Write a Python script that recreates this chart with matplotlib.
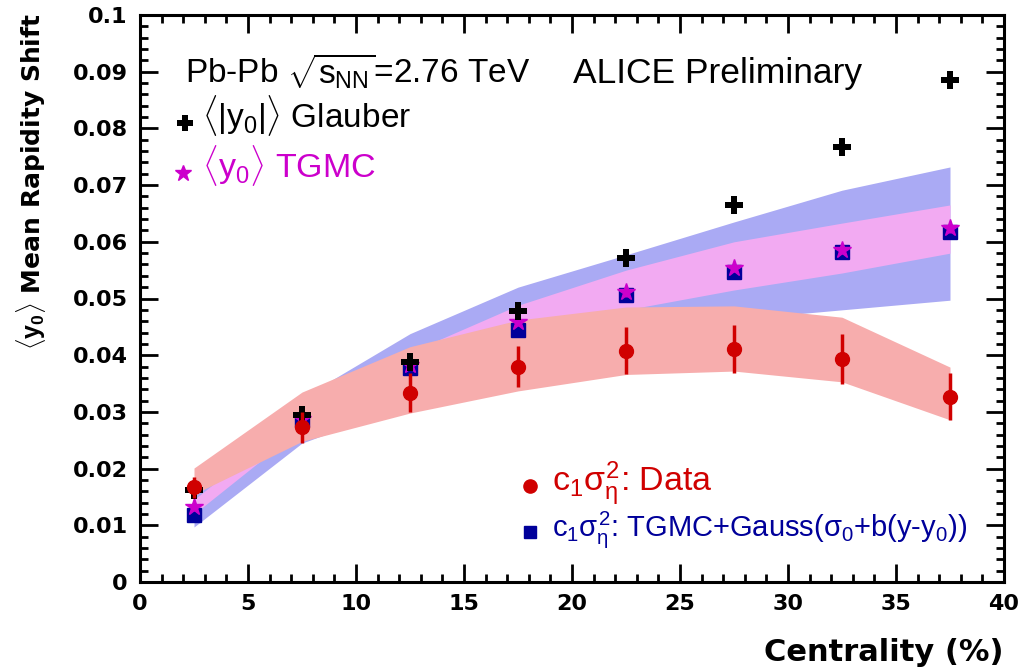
import numpy as np
import matplotlib
matplotlib.use("Agg")
import matplotlib.pyplot as plt

plt.rcParams["mathtext.fontset"] = "custom"
plt.rcParams["mathtext.rm"] = "Liberation Sans"
plt.rcParams["mathtext.it"] = "Liberation Sans"
plt.rcParams["mathtext.bf"] = "Liberation Sans:bold"

# ── data ─────────────────────────────────────────────────────────────────────
centrality = [2.5, 7.5, 12.5, 17.5, 22.5, 27.5, 32.5, 37.5]

data_y    = [0.0167, 0.0273, 0.0334, 0.0380, 0.0408, 0.0411, 0.0394, 0.0327]
data_err  = [0.0019, 0.0027, 0.0035, 0.0036, 0.0041, 0.0042, 0.0044, 0.0042]
data_sys_hi = [0.0201, 0.0335, 0.0415, 0.0462, 0.0485, 0.0487, 0.0467, 0.0379]
data_sys_lo = [0.0155, 0.0248, 0.0298, 0.0337, 0.0366, 0.0372, 0.0353, 0.0286]

glauber_y = [0.0163, 0.0294, 0.0388, 0.0478, 0.0571, 0.0665, 0.0767, 0.0885]

tgmc_y    = [0.0132, 0.0288, 0.0383, 0.0459, 0.0511, 0.0554, 0.0586, 0.0624]
tgmc_err  = [0.0006, 0.0006, 0.0007, 0.0007, 0.0008, 0.0008, 0.0008, 0.0009]
tgmc_hi   = [0.0145, 0.0300, 0.0405, 0.0488, 0.0550, 0.0600, 0.0633, 0.0665]
tgmc_lo   = [0.0120, 0.0272, 0.0355, 0.0422, 0.0480, 0.0515, 0.0545, 0.0580]

gauss_y   = [0.0118, 0.0286, 0.0377, 0.0444, 0.0506, 0.0547, 0.0582, 0.0617]
gauss_err = [0.0006, 0.0006, 0.0007, 0.0007, 0.0008, 0.0008, 0.0008, 0.0009]
gauss_hi  = [0.0150, 0.0325, 0.0438, 0.0520, 0.0577, 0.0635, 0.0691, 0.0732]
gauss_lo  = [0.0097, 0.0245, 0.0315, 0.0374, 0.0439, 0.0463, 0.0480, 0.0497]

RED, BLUE, MAG = "#d00000", "#00009a", "#cc00cc"

# ── figure ───────────────────────────────────────────────────────────────────
fig = plt.figure(figsize=(10.23, 6.71), dpi=100)
ax = fig.add_axes([140/1023, 89/671, 864/1023, 567/671])

# systematic bands
ax.fill_between(centrality, gauss_lo, gauss_hi, color="#aaaaf4", lw=0, zorder=1)
ax.fill_between(centrality, tgmc_lo, tgmc_hi, color="#f2aaf2", lw=0, zorder=2)
ax.fill_between(centrality, data_sys_lo, data_sys_hi, color="#f7adad", lw=0, zorder=3)

# points
ax.errorbar(centrality, gauss_y, yerr=gauss_err, fmt="s", color=BLUE, ms=10,
            elinewidth=2, capsize=0, zorder=4)
ax.errorbar(centrality, tgmc_y, yerr=tgmc_err, fmt="*", color=MAG, ms=13,
            elinewidth=2, capsize=0, zorder=5)
ax.plot(centrality, glauber_y, "P", color="black", ms=12.5, mew=0, zorder=6)
ax.errorbar(centrality, data_y, yerr=data_err, fmt="o", color=RED, ms=10,
            elinewidth=2.5, capsize=0, zorder=7)

# axes
ax.set_xlim(0, 40)
ax.set_ylim(0, 0.1)
ax.set_xticks(np.arange(0, 41, 5))
ax.set_xticks(np.arange(0, 41, 1), minor=True)
ax.set_yticks(np.arange(0, 0.1001, 0.01))
ax.set_yticks(np.arange(0, 0.1001, 0.002), minor=True)
ax.set_yticklabels(["0"] + [f"{v:.2f}".rstrip("0") if v < 0.095 else "0.1"
                            for v in np.arange(0.01, 0.1001, 0.01)])
ax.tick_params(which="both", direction="in", top=True, right=True, width=2)
ax.tick_params(which="major", length=13, pad=9)
ax.tick_params(which="minor", length=6)
for lbl in ax.get_xticklabels() + ax.get_yticklabels():
    lbl.set_fontfamily("DejaVu Sans")
    lbl.set_fontweight("bold")
    lbl.set_fontsize(16)
for sp in ax.spines.values():
    sp.set_linewidth(2.2)

fig.text(1004/1023, 1 - 661/671, "Centrality (%)", ha="right", va="baseline",
         fontsize=22, fontweight="bold", family="DejaVu Sans")
fig.text(14/1023, 1 - 13/671, r"$\langle\mathbf{y_0}\rangle$ Mean Rapidity Shift",
         rotation=90, ha="left", va="top", fontsize=18, fontweight="bold",
         family="DejaVu Sans")

# annotations
tf = ax.transAxes
ax.text(0.052, 0.880, r"Pb-Pb $\sqrt{s_{NN}}$=2.76 TeV", transform=tf,
        fontsize=24, family="Liberation Sans", va="baseline")
ax.text(0.501, 0.880, "ALICE Preliminary", transform=tf,
        fontsize=25.5, family="Liberation Sans", va="baseline")

ax.plot([0.052], [0.8095], "P", color="black", ms=11, mew=0, transform=tf,
        clip_on=False)
ax.text(0.0718, 0.8007, r"$\langle$|y$_0$|$\rangle$ Glauber", transform=tf,
        fontsize=24, family="Liberation Sans", va="baseline")
ax.plot([0.0498], [0.7213], "*", color=MAG, ms=12, transform=tf, clip_on=False)
ax.text(0.0718, 0.7125, r"$\langle$y$_0\rangle$ TGMC", transform=tf, color=MAG,
        fontsize=24.5, family="Liberation Sans", va="baseline")

ax.plot([0.4514], [0.1693], "o", color=RED, ms=9.5, transform=tf)
ax.text(0.4769, 0.1605, r"c$_1\sigma^2_\eta$: Data", transform=tf, color=RED,
        fontsize=24.5, family="Liberation Sans", va="baseline")
ax.plot([0.4514], [0.0882], "s", color=BLUE, ms=8.5, transform=tf)
ax.text(0.4769, 0.0811, r"c$_1\sigma^2_\eta$: TGMC+Gauss($\sigma_0$+b(y-y$_0$))",
        transform=tf, color=BLUE, fontsize=21, family="Liberation Sans",
        va="baseline")

fig.savefig("out.png", dpi=100)
